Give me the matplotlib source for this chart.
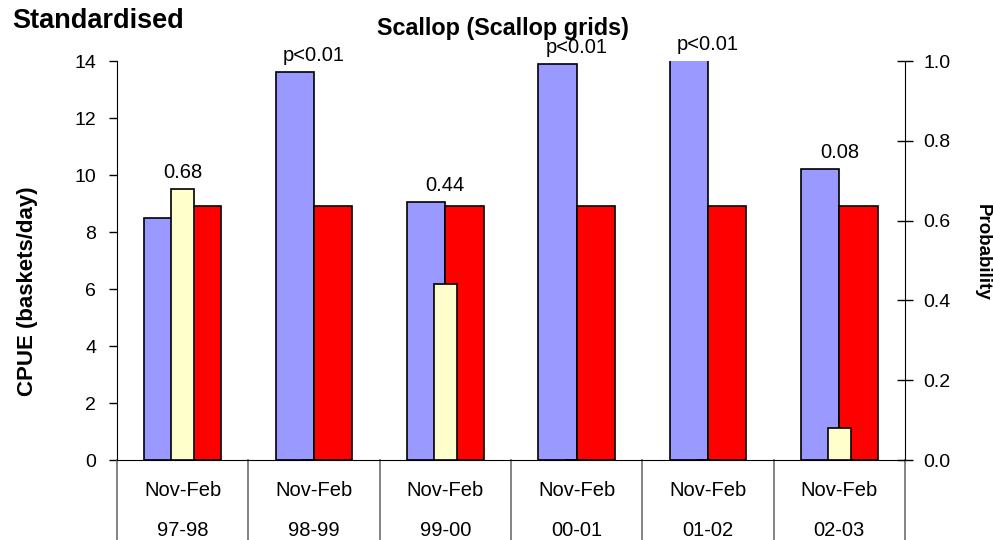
"""
Standardised scallop CPUE by season (Nov-Feb), with the reference level
and the probability of each season's CPUE on a second axis.
"""
import matplotlib
matplotlib.use("Agg")
import matplotlib.pyplot as plt
import matplotlib.transforms as mtransforms
import numpy as np

# -- Data ---------------------------------------------------------------------
periods   = ["Nov-Feb"] * 6
seasons   = ["97-98", "98-99", "99-00", "00-01", "01-02", "02-03"]
cpue      = [8.5, 13.6, 9.05, 13.88, 14.4, 10.2]
reference = [8.93, 8.93, 8.93, 8.93, 8.93, 8.93]
prob      = [0.68, 0.0, 0.44, 0.0, 0.0, 0.08]
p_labels  = ["0.68", "p<0.01", "0.44", "p<0.01", "p<0.01", "0.08"]

# -- Style --------------------------------------------------------------------
C_BLUE   = "#9999FF"
C_RED    = "#FF0000"
C_YELLOW = "#FFFFCC"
C_SEP    = "#6E6E6E"
FS_TICK  = 14
FS_CAT   = 14.5
FS_ANN   = 14.5

plt.rcParams["font.family"] = ["Liberation Sans", "DejaVu Sans"]

fig = plt.figure(figsize=(9.93, 5.4), dpi=100, facecolor="white")
ax = fig.add_axes([0.1178, 0.148, 0.7936, 0.739])
ax2 = ax.twinx()

x = np.arange(len(seasons))
w = 0.292
ax.bar(x - w / 2, cpue, width=w, color=C_BLUE, edgecolor="black", linewidth=1.2, zorder=2)
ax.bar(x + w / 2, reference, width=w, color=C_RED, edgecolor="black", linewidth=1.2, zorder=2)
ax2.bar(x, prob, width=0.175, color=C_YELLOW, edgecolor="black", linewidth=1.2, zorder=2)

ax.set_xlim(-0.5, len(seasons) - 0.5)
ax.set_ylim(0, 14)
ax2.set_ylim(0, 1.0)
ax.set_yticks(np.arange(0, 15, 2))
ax2.set_yticks(np.arange(0, 1.01, 0.2))
ax2.set_yticklabels([f"{v:.1f}" for v in np.arange(0, 1.01, 0.2)])

# probability labels above the tallest bar of each group
for xi, c, p, lab in zip(x, cpue, prob, p_labels):
    top = max(min(c, 14.0), p * 14.0)
    ax.annotate(lab, (xi, top), xytext=(0, 8), textcoords="offset points",
                ha="center", va="baseline", fontsize=FS_ANN,
                annotation_clip=False)

# -- Axes cosmetics -------------------------------------------------------------
for a in (ax, ax2):
    a.spines["top"].set_visible(False)
    a.set_xticks([])
ax.spines["right"].set_visible(False)
ax2.spines["left"].set_visible(False)
ax2.spines["bottom"].set_visible(False)
ax.tick_params(axis="y", direction="out", length=6, width=1, labelsize=FS_TICK, pad=9)
ax2.tick_params(axis="y", direction="inout", length=12, width=1, labelsize=FS_TICK, pad=7)

# two-level category axis with separators
trans = mtransforms.blended_transform_factory(ax.transData, ax.transAxes)
for xi, per, sea in zip(x, periods, seasons):
    ax.text(xi, -0.0902, per, transform=trans, ha="center", va="baseline", fontsize=FS_CAT)
    ax.text(xi, -0.1905, sea, transform=trans, ha="center", va="baseline", fontsize=FS_CAT)
for b in np.arange(-0.5, len(seasons), 1.0):
    ax.plot([b, b], [0, -0.21], transform=trans, color=C_SEP, linewidth=1.2,
            clip_on=False)

fig.text(28 / 993, 1 - 291 / 540, "CPUE (baskets/day)", fontsize=16,
         fontweight="bold", rotation=90, ha="center", va="center")
fig.text(982 / 993, 1 - 252 / 540, "Probability", fontsize=13.5,
         fontweight="bold", rotation=-90, ha="center", va="center")

fig.text(12 / 993, 1 - 20.5 / 540, "Standardised", fontsize=19.5, fontweight="bold",
         ha="left", va="center")
fig.text(502.5 / 993, 1 - 28 / 540, "Scallop (Scallop grids)", fontsize=16.8,
         fontweight="bold", ha="center", va="center")

fig.savefig("out.png", dpi=100, facecolor="white")
